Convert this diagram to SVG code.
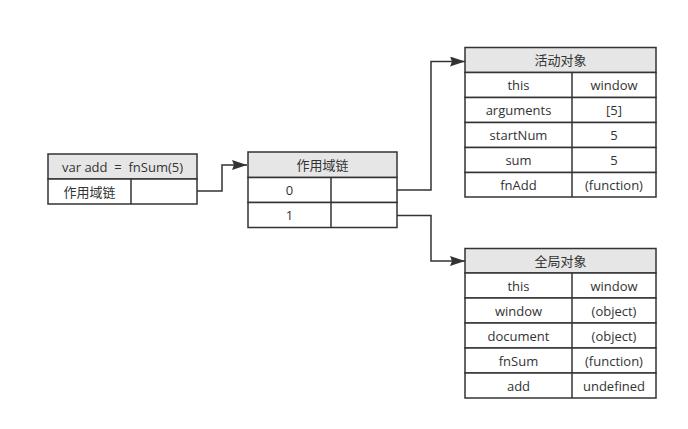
<svg xmlns="http://www.w3.org/2000/svg" width="688" height="429" viewBox="0 0 688 429">
<defs>
<style>
.c{fill:#fff;stroke:#333;stroke-width:1.5}
.h{fill:#e6e6e6;stroke:#333;stroke-width:1.5}
.l{fill:none;stroke:#333;stroke-width:1.5}
text{font-family:"Open Sans","Noto Sans CJK SC",sans-serif;font-size:13px;fill:#333;text-anchor:middle;dominant-baseline:central}
.cl{fill:none;stroke:#333;stroke-width:1.5}
</style>
<marker id="ar" markerWidth="15" markerHeight="10" refX="15" refY="5" orient="auto" markerUnits="userSpaceOnUse">
<path d="M0,0 L15,5 L0,10 L2,5 Z" fill="#333"/>
</marker>
</defs>
<g id="connectors">
<path class="cl" d="M197,191 H222 V165 H247" marker-end="url(#ar)"/>
<path class="cl" d="M397,190 H431 V61.5 H465" marker-end="url(#ar)"/>
<path class="cl" d="M397,215.5 H431 V261 H465" marker-end="url(#ar)"/>
</g>
<g id="node-add">
<rect class="h" x="48" y="154" width="149" height="25"/>
<rect class="c" x="48" y="179" width="149" height="25"/>
<line class="l" x1="131" y1="179" x2="131" y2="204"/>
<text x="122.5" y="166.5">var add&#160; =&#160; fnSum(5)</text>
<text x="89.5" y="191.5">作用域链</text>
</g>
<g id="node-scope">
<rect class="h" x="248" y="152" width="149" height="25.5"/>
<rect class="c" x="248" y="177.5" width="149" height="25"/>
<rect class="c" x="248" y="202.5" width="149" height="25"/>
<line class="l" x1="331" y1="177.5" x2="331" y2="227.5"/>
<text x="322.5" y="164.5">作用域链</text>
<text x="289.5" y="190">0</text>
<text x="289.5" y="215">1</text>
</g>
<g id="node-activation">
<rect class="h" x="465" y="47.5" width="191" height="25"/>
<rect class="c" x="465" y="72.5" width="191" height="25"/>
<rect class="c" x="465" y="97.5" width="191" height="25"/>
<rect class="c" x="465" y="122.5" width="191" height="25"/>
<rect class="c" x="465" y="147.5" width="191" height="25"/>
<rect class="c" x="465" y="172.5" width="191" height="24.5"/>
<line class="l" x1="572" y1="72.5" x2="572" y2="197"/>
<text x="560.5" y="60">活动对象</text>
<text x="518.5" y="85">this</text><text x="614" y="85">window</text>
<text x="518.5" y="110">arguments</text><text x="614" y="110">[5]</text>
<text x="518.5" y="135">startNum</text><text x="614" y="135">5</text>
<text x="518.5" y="160">sum</text><text x="614" y="160">5</text>
<text x="518.5" y="184.5">fnAdd</text><text x="614" y="184.5">(function)</text>
</g>
<g id="node-global">
<rect class="h" x="465" y="248.5" width="191" height="24.5"/>
<rect class="c" x="465" y="273" width="191" height="25"/>
<rect class="c" x="465" y="298" width="191" height="25"/>
<rect class="c" x="465" y="323" width="191" height="25"/>
<rect class="c" x="465" y="348" width="191" height="25"/>
<rect class="c" x="465" y="373" width="191" height="25"/>
<line class="l" x1="572" y1="273" x2="572" y2="398"/>
<text x="560.5" y="260.5">全局对象</text>
<text x="518.5" y="285.5">this</text><text x="614" y="285.5">window</text>
<text x="518.5" y="310.5">window</text><text x="614" y="310.5">(object)</text>
<text x="518.5" y="335.5">document</text><text x="614" y="335.5">(object)</text>
<text x="518.5" y="360.5">fnSum</text><text x="614" y="360.5">(function)</text>
<text x="518.5" y="385.5">add</text><text x="614" y="385.5">undefined</text>
</g>
</svg>
